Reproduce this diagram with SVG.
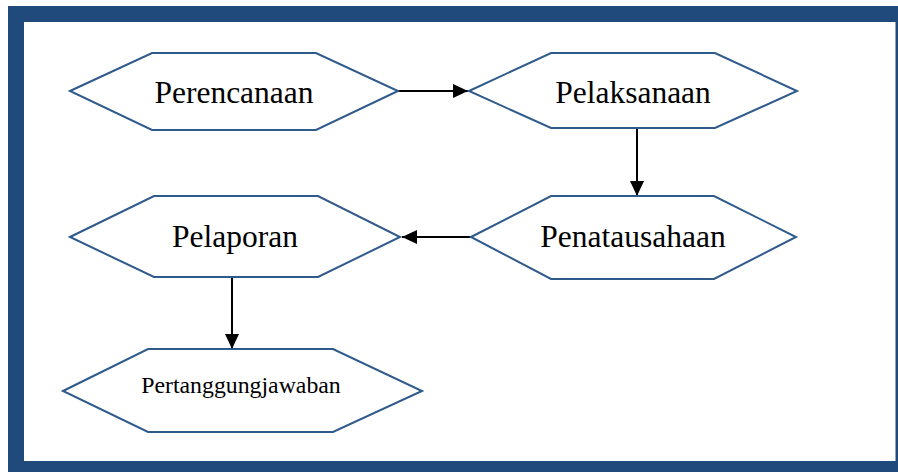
<svg xmlns="http://www.w3.org/2000/svg" width="898" height="472" viewBox="0 0 898 472">
<style>
.hex{fill:#fff;stroke:#2F5A8C;stroke-width:2;stroke-linejoin:miter}
.lbl{font-family:"Liberation Serif","Times New Roman",serif;fill:#000;text-anchor:middle}
.big{font-size:31.5px}
.small{font-size:23.8px}
.conn{stroke:#000;stroke-width:2;fill:none}
</style>
<defs>
<marker id="arr" markerUnits="userSpaceOnUse" viewBox="0 0 15 14" refX="15" refY="7" markerWidth="15" markerHeight="14" orient="auto">
<path d="M0,0 L15,7 L0,14 Z" fill="#000"/>
</marker>
</defs>
<rect width="898" height="472" fill="#fff"/>
<g id="frame">
<path d="M8,6 H898 V472 H8 Z M24,22 V461 H895.5 V22 Z" fill="#214A7C" fill-rule="evenodd"/>
</g>
<g id="connectors">
<line class="conn" x1="398" y1="91" x2="468" y2="91" marker-end="url(#arr)"/>
<line class="conn" x1="637" y1="128" x2="637" y2="196" marker-end="url(#arr)"/>
<line class="conn" x1="471" y1="237" x2="402" y2="237" marker-end="url(#arr)"/>
<line class="conn" x1="232" y1="277" x2="232" y2="349" marker-end="url(#arr)"/>
</g>
<g id="perencanaan">
<polygon class="hex" points="70,91 152,53 316,53 398,91 316,130 152,130"/>
<text class="lbl big" x="234" y="103">Perencanaan</text>
</g>
<g id="pelaksanaan">
<polygon class="hex" points="469,91 551,53 715,53 797,91 715,128 551,128"/>
<text class="lbl big" x="633" y="103">Pelaksanaan</text>
</g>
<g id="penatausahaan">
<polygon class="hex" points="471,237 551,196 714,196 796,237 714,279 551,279"/>
<text class="lbl big" x="633" y="247">Penatausahaan</text>
</g>
<g id="pelaporan">
<polygon class="hex" points="70,237 154,196 318,196 400,237 318,277 154,277"/>
<text class="lbl big" x="235" y="247">Pelaporan</text>
</g>
<g id="pertanggungjawaban">
<polygon class="hex" points="63,391 148,349 333,349 422,391 333,432 148,432"/>
<text class="lbl small" x="241" y="393">Pertanggungjawaban</text>
</g>
</svg>
